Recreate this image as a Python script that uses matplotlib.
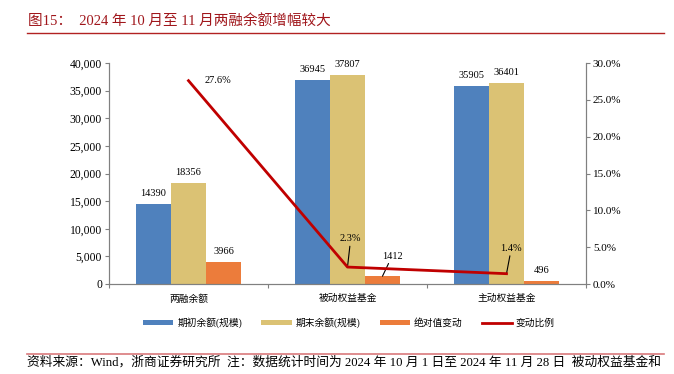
import matplotlib
matplotlib.use("Agg")
import matplotlib.pyplot as plt
import numpy as np

plt.rcParams['font.family'] = ['Liberation Serif', 'Noto Sans CJK SC']

categories = ['两融余额', '被动权益基金', '主动权益基金']
begin_vals = [14390, 36945, 35905]
end_vals = [18356, 37807, 36401]
abs_change = [3966, 1412, 496]
pct_change = [27.6, 2.3, 1.4]
pct_labels = ['27.6%', '2.3%', '1.4%']
series_names = ['期初余额(规模)', '期末余额(规模)', '绝对值变动', '变动比例']

c_blue = '#4F81BD'
c_gold = '#DBC274'
c_orange = '#EC7C3B'
c_red = '#C00000'
gray = '#808080'

fig = plt.figure(figsize=(6.74, 3.74), dpi=100)
ax = fig.add_axes([109/674, 1-284/374, (586-109)/674, (284-63)/374])
ax2 = ax.twinx()

x = np.arange(len(categories))
w = 0.22
b1 = ax.bar(x - w, begin_vals, w, color=c_blue, label=series_names[0])
b2 = ax.bar(x, end_vals, w, color=c_gold, label=series_names[1])
b3 = ax.bar(x + w, abs_change, w, color=c_orange, label=series_names[2])
ln, = ax2.plot(x, pct_change, color=c_red, lw=2, label=series_names[3], zorder=5)

ax.set_xlim(-0.5, 2.5)
ax.set_ylim(0, 40000)
ax2.set_ylim(0, 30)
ax.set_yticks(np.arange(0, 40001, 5000))
ax.set_yticklabels([f'{v:,}' for v in range(0, 40001, 5000)])
ax2.set_yticks(np.arange(0, 30.1, 5))
ax2.set_yticklabels([f'{v:.1f}%' for v in np.arange(0, 30.1, 5)])

ax.set_xticks([-0.5, 0.5, 1.5, 2.5])
ax.set_xticklabels([])
ax.set_xticks(x, minor=True)
ax.set_xticklabels(categories, minor=True, fontsize=7)
ax.tick_params(axis='x', which='minor', length=0, pad=7)
ax.tick_params(axis='x', which='major', length=3, color=gray)
ax.tick_params(axis='y', labelsize=8.4, length=3, color=gray, pad=2)
ax2.tick_params(axis='y', labelsize=8, length=3, color=gray, pad=2)

for a in (ax, ax2):
    a.spines['top'].set_visible(False)
    for s in ('left', 'right', 'bottom'):
        a.spines[s].set_color(gray)
ax.set_zorder(ax2.get_zorder() - 1)
ax2.patch.set_visible(False)

fs = 7.5
for i in range(3):
    ax.text(x[i] - w, begin_vals[i] + 1100, str(begin_vals[i]), ha='center', va='bottom', fontsize=fs)
    ax.text(x[i], end_vals[i] + 1100, str(end_vals[i]), ha='center', va='bottom', fontsize=fs)
# absolute change labels
ax.text(x[0] + w, abs_change[0] + 1100, str(abs_change[0]), ha='center', va='bottom', fontsize=fs)
ax.annotate(str(abs_change[1]), xy=(x[1] + w, abs_change[1]), xytext=(x[1] + w + 0.06, abs_change[1] + 2800),
            ha='center', va='bottom', fontsize=fs,
            arrowprops=dict(arrowstyle='-', color='black', lw=0.8, shrinkA=0, shrinkB=0))
ax.text(x[2] + w, abs_change[2] + 1100, str(abs_change[2]), ha='center', va='bottom', fontsize=fs)

# pct labels
ax2.text(x[0] + 0.1, pct_change[0], pct_labels[0], ha='left', va='center', fontsize=fs)
ax2.annotate(pct_labels[1], xy=(x[1], pct_change[1]), xytext=(x[1] + 0.02, pct_change[1] + 3.2),
             ha='center', va='bottom', fontsize=fs,
             arrowprops=dict(arrowstyle='-', color='black', lw=0.8, shrinkA=0, shrinkB=0))
ax2.annotate(pct_labels[2], xy=(x[2], pct_change[2]), xytext=(x[2] + 0.03, pct_change[2] + 2.8),
             ha='center', va='bottom', fontsize=fs,
             arrowprops=dict(arrowstyle='-', color='black', lw=0.8, shrinkA=0, shrinkB=0))

fig.legend(handles=[b1, b2, b3, ln], loc='center', bbox_to_anchor=(349/674, 1-323/374),
           ncol=4, frameon=False, fontsize=7, handlelength=3.1, handleheight=0.5,
           columnspacing=2.0, handletextpad=0.4)

# title & rules
fig.text(28/674, 1-21/374, '图15：  2024 年 10 月至 11 月两融余额增幅较大', color='#A0161B',
         fontsize=10.5, ha='left', va='center')
fig.add_artist(plt.Line2D([27/674, 664/674], [1-33/374, 1-33/374], color='#B22222', lw=1))
fig.add_artist(plt.Line2D([27/674, 664/674], [1-354/374, 1-354/374], color='#D9797B', lw=1.2))
fig.text(27/674, 1-362/374, '资料来源：Wind，浙商证券研究所  注：数据统计时间为 2024 年 10 月 1 日至 2024 年 11 月 28 日  被动权益基金和',
         fontsize=9.2, ha='left', va='center')

fig.savefig('out.png', dpi=100)
